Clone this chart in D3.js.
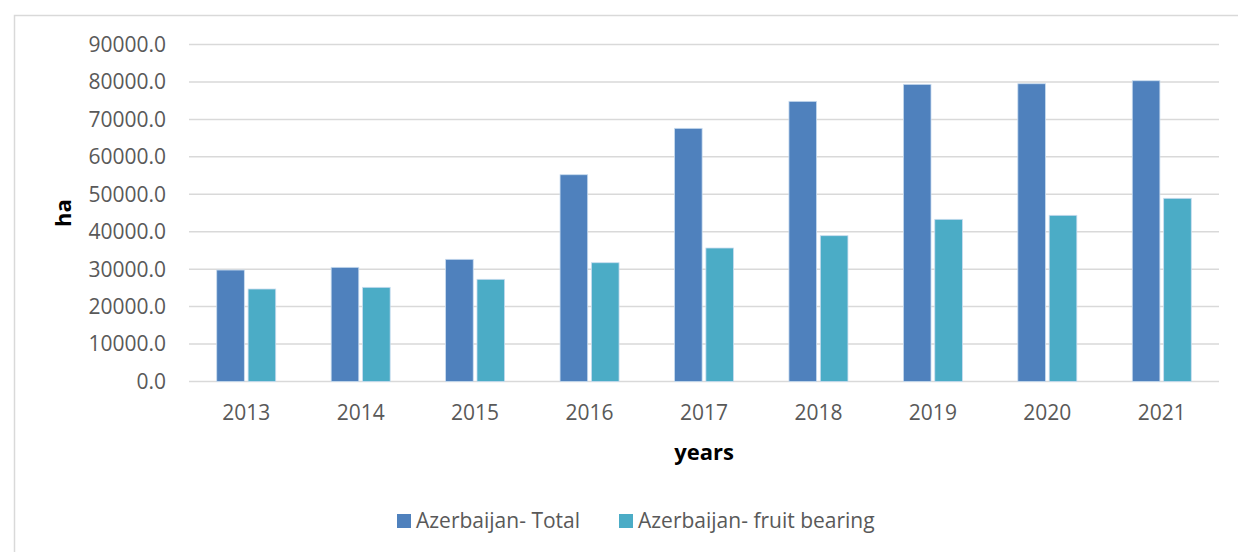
<!DOCTYPE html>
<html>
<head>
<script src="https://cdn.jsdelivr.net/npm/d3@7"></script>
<style>
  body { margin: 0; background: #fff; }
  text { font-family: "Open Sans", "Noto Sans", sans-serif; }
</style>
</head>
<body>
<div id="vis"></div>
<script>
const years = ["2013", "2014", "2015", "2016", "2017", "2018", "2019", "2020", "2021"];
const seriesNames = ["Azerbaijan- Total", "Azerbaijan- fruit bearing"];
const total = [29770, 30490, 32630, 55220, 67610, 74820, 79360, 79520, 80320];
const fruitBearing = [24700, 25150, 27290, 31720, 35650, 38940, 43310, 44380, 48920];
const yTicks = [0, 10000, 20000, 30000, 40000, 50000, 60000, 70000, 80000, 90000];
const colors = ["#4f81bd", "#4bacc6"];

const W = 1238, H = 552;
const m = {left: 189, right: 1219, top: 44.5, bottom: 381.5};

const svg = d3.select("#vis").append("svg").attr("width", W).attr("height", H);

// frame
svg.append("path")
  .attr("d", `M14.5,${H} V15.5 H${W}`)
  .style("fill", "none").style("stroke", "#d9d9d9").style("stroke-width", 1.5);

const x = d3.scaleBand().domain(years).range([m.left, m.right]);
const y = d3.scaleLinear().domain([0, 90000]).range([m.bottom, m.top]);
const xs = d3.scaleBand().domain(seriesNames).range([0, 59]).paddingInner(0.12);

// gridlines
svg.append("g").selectAll("line").data(yTicks).join("line")
  .attr("x1", m.left).attr("x2", m.right)
  .attr("y1", d => y(d)).attr("y2", d => y(d))
  .style("stroke", "#d9d9d9").style("stroke-width", 1.5);

// y tick labels
svg.append("g").selectAll("text").data(yTicks).join("text")
  .attr("x", 166).attr("y", d => y(d)).attr("dy", "0.35em")
  .attr("text-anchor", "end")
  .style("font-size", "21px").style("fill", "#595959")
  .text(d => d3.format(".1f")(d));

// bars
const data = years.map((yr, i) => ({year: yr, values: [total[i], fruitBearing[i]]}));
const groups = svg.append("g").selectAll("g").data(data).join("g")
  .attr("transform", d => `translate(${x(d.year) + x.bandwidth() / 2 - 29.5},0)`);
groups.selectAll("rect").data(d => d.values.map((v, j) => ({name: seriesNames[j], v, j}))).join("rect")
  .attr("x", d => xs(d.name))
  .attr("width", xs.bandwidth())
  .attr("y", d => y(d.v))
  .attr("height", d => y(0) - y(d.v))
  .style("fill", d => colors[d.j])
  .style("stroke", "#c9dcef").style("stroke-width", 0.8);

// x labels
svg.append("g").selectAll("text").data(years).join("text")
  .attr("x", d => x(d) + x.bandwidth() / 2).attr("y", 420)
  .attr("text-anchor", "middle")
  .style("font-size", "21px").style("fill", "#595959")
  .text(d => d);

// axis titles
svg.append("text").attr("x", 704).attr("y", 460).attr("text-anchor", "middle")
  .style("font-size", "22px").style("font-weight", "bold").style("fill", "#000")
  .text("years");
svg.append("text").attr("transform", "translate(71,213) rotate(-90)").attr("text-anchor", "middle")
  .style("font-size", "22px").style("font-weight", "bold").style("fill", "#000")
  .text("ha");

// legend
const legendX = [397, 619];
const lg = svg.append("g").selectAll("g").data(seriesNames).join("g")
  .attr("transform", (d, i) => `translate(${legendX[i]},514)`);
lg.append("rect").attr("width", 14).attr("height", 14).style("fill", (d, i) => colors[i]);
lg.append("text").attr("x", 19).attr("y", 7).attr("dy", "0.35em")
  .style("font-size", "21px").style("fill", "#595959").text(d => d);
</script>
</body>
</html>
